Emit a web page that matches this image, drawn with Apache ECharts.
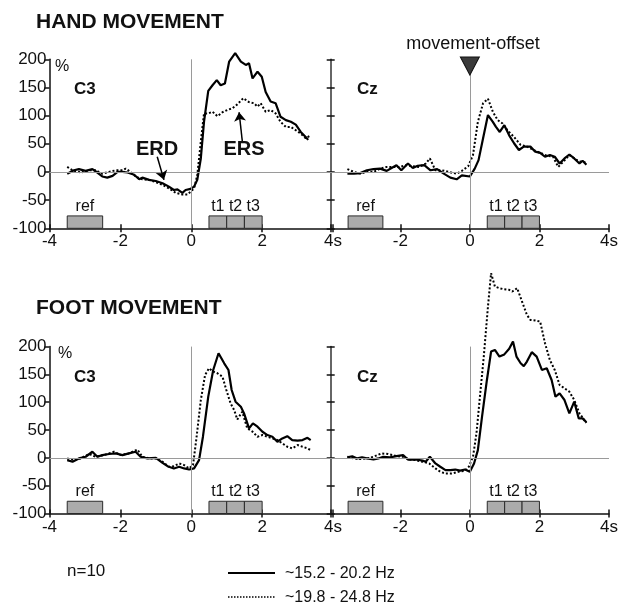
<!DOCTYPE html>
<html><head><meta charset="utf-8">
<script src="https://cdn.jsdelivr.net/npm/echarts@6/dist/echarts.min.js"></script>
<style>html,body{margin:0;padding:0;background:#fff}#c{width:621px;height:615px}</style>
</head><body><div id="c"></div>
<script>
// ---- data (time in s, value in %) ----
const xTickStep = 2;
const yRange = [-100, 200];
const yTickStep = 50;

const handC3Solid = [[-3.50,-3],[-3.31,3],[-3.17,5],[-2.98,2],[-2.79,5],[-2.65,-1],[-2.51,-8],[-2.37,-10],[-2.22,-7],[-2.08,0],[-1.94,0],[-1.80,-1],[-1.61,-5],[-1.47,-13],[-1.38,-10],[-1.19,-14],[-1.00,-16],[-0.81,-20],[-0.63,-26],[-0.49,-32],[-0.39,-31],[-0.25,-37],[-0.16,-32],[-0.02,-30],[0.08,-26],[0.17,-14],[0.27,24],[0.36,89],[0.48,144],[0.60,154],[0.72,163],[0.83,154],[0.95,157],[1.07,196],[1.24,211],[1.40,196],[1.54,190],[1.63,193],[1.73,166],[1.87,178],[1.99,169],[2.10,142],[2.24,125],[2.38,122],[2.52,98],[2.67,92],[2.81,89],[2.95,84],[3.09,71],[3.23,62],[3.30,57]];
const handC3Dotted = [[-3.50,9],[-3.35,3],[-3.12,-1],[-2.88,3],[-2.70,3],[-2.51,-3],[-2.32,0],[-2.13,3],[-1.94,3],[-1.85,6],[-1.71,0],[-1.57,-8],[-1.38,-13],[-1.19,-14],[-1.00,-18],[-0.81,-23],[-0.63,-29],[-0.44,-37],[-0.25,-40],[-0.11,-40],[-0.02,-35],[0.08,-29],[0.17,-6],[0.27,54],[0.36,104],[0.48,104],[0.60,107],[0.74,99],[0.88,106],[1.02,110],[1.16,113],[1.30,120],[1.47,131],[1.63,124],[1.77,122],[1.87,116],[1.96,122],[2.10,107],[2.24,110],[2.38,104],[2.52,89],[2.67,80],[2.81,80],[2.95,74],[3.09,68],[3.23,60],[3.37,65]];
const handCzSolid = [[-3.52,-3],[-3.33,-3],[-3.15,-2],[-2.96,3],[-2.77,5],[-2.58,6],[-2.39,2],[-2.25,7],[-2.11,12],[-1.97,3],[-1.78,15],[-1.64,7],[-1.50,11],[-1.31,12],[-1.13,3],[-0.94,5],[-0.75,-3],[-0.56,-10],[-0.38,-13],[-0.23,-6],[0.00,-8],[0.14,6],[0.25,21],[0.38,60],[0.52,101],[0.66,89],[0.75,80],[0.86,71],[0.99,83],[1.13,65],[1.27,51],[1.41,39],[1.55,45],[1.74,45],[1.88,36],[2.02,34],[2.16,27],[2.30,30],[2.44,27],[2.58,15],[2.72,24],[2.86,31],[3.00,24],[3.15,15],[3.24,20],[3.35,13]];
const handCzDotted = [[-3.52,5],[-3.33,0],[-3.15,-3],[-2.96,0],[-2.77,0],[-2.58,6],[-2.39,9],[-2.21,9],[-2.02,9],[-1.83,12],[-1.64,10],[-1.46,9],[-1.27,15],[-1.15,24],[-0.99,3],[-0.80,3],[-0.61,0],[-0.38,-3],[-0.23,2],[-0.05,10],[0.09,30],[0.23,89],[0.38,122],[0.52,130],[0.66,107],[0.80,92],[0.94,86],[1.08,74],[1.27,62],[1.46,48],[1.64,45],[1.83,39],[2.02,34],[2.21,29],[2.39,27],[2.54,9],[2.68,18],[2.86,30],[3.05,22],[3.19,18],[3.33,17]];
const footC3Solid = [[-3.50,-4],[-3.35,-7],[-3.17,-1],[-2.98,2],[-2.79,11],[-2.65,2],[-2.51,5],[-2.32,7],[-2.13,8],[-1.94,5],[-1.76,8],[-1.57,11],[-1.43,2],[-1.24,-1],[-1.00,0],[-0.81,-9],[-0.67,-15],[-0.49,-19],[-0.34,-16],[-0.20,-19],[-0.06,-21],[0.08,-19],[0.22,-4],[0.33,38],[0.48,110],[0.62,158],[0.77,188],[0.93,170],[1.05,158],[1.14,122],[1.25,101],[1.40,92],[1.49,80],[1.63,53],[1.74,62],[1.87,56],[2.01,47],[2.15,41],[2.29,38],[2.43,29],[2.57,35],[2.71,39],[2.85,32],[3.00,31],[3.14,32],[3.28,36],[3.37,32]];
const footC3Dotted = [[-3.50,-1],[-3.31,-4],[-3.12,-1],[-2.88,7],[-2.70,2],[-2.46,5],[-2.18,11],[-1.99,5],[-1.76,8],[-1.52,15],[-1.38,2],[-1.19,-1],[-1.00,-1],[-0.81,-7],[-0.63,-16],[-0.49,-15],[-0.34,-10],[-0.20,-13],[-0.06,-19],[0.05,-13],[0.14,32],[0.27,104],[0.39,149],[0.50,161],[0.62,155],[0.74,152],[0.88,146],[0.99,122],[1.11,98],[1.21,86],[1.30,69],[1.44,83],[1.58,53],[1.73,47],[1.87,38],[2.01,41],[2.15,38],[2.29,35],[2.43,32],[2.57,26],[2.71,20],[2.85,17],[3.00,23],[3.14,20],[3.28,17],[3.37,14]];
const footCzSolid = [[-3.52,1],[-3.38,3],[-3.24,-1],[-3.10,1],[-2.96,-1],[-2.77,-3],[-2.63,-1],[-2.49,2],[-2.30,1],[-2.11,3],[-1.92,5],[-1.78,-3],[-1.55,-3],[-1.36,-5],[-1.27,-7],[-1.15,2],[-0.99,-10],[-0.85,-16],[-0.70,-22],[-0.56,-22],[-0.42,-21],[-0.28,-23],[-0.14,-21],[0.00,-25],[0.12,-10],[0.23,14],[0.35,74],[0.49,140],[0.61,191],[0.72,194],[0.85,182],[0.99,186],[1.13,196],[1.24,209],[1.34,182],[1.46,170],[1.55,165],[1.64,173],[1.78,190],[1.92,182],[2.07,158],[2.21,161],[2.35,140],[2.46,110],[2.58,116],[2.72,104],[2.86,80],[3.00,101],[3.13,71],[3.24,71],[3.35,64]];
const footCzDotted = [[-3.52,2],[-3.33,-1],[-3.15,-2],[-2.96,-1],[-2.77,2],[-2.54,8],[-2.35,7],[-2.11,3],[-1.92,2],[-1.74,-3],[-1.55,-4],[-1.36,-7],[-1.17,-10],[-0.99,-19],[-0.85,-25],[-0.70,-28],[-0.52,-28],[-0.33,-25],[-0.14,-23],[-0.03,-16],[0.09,2],[0.19,44],[0.28,104],[0.40,182],[0.52,272],[0.61,332],[0.72,308],[0.85,305],[0.99,303],[1.13,302],[1.22,299],[1.36,305],[1.50,281],[1.64,257],[1.74,248],[1.88,247],[2.02,245],[2.16,206],[2.30,176],[2.44,158],[2.58,131],[2.72,125],[2.86,119],[3.00,104],[3.15,80],[3.29,68],[3.35,63]];

const refWindow = [-3.5, -2.5];
const testWindows = [[0.5, 1.0], [1.0, 1.5], [1.5, 2.0]];
const testLabels = ['t1', 't2', 't3'];
const boxValueRange = [-100, -78];
const offsetMarkerAt = [0, 188];
const erdArrow = [[-0.96, 27], [-0.77, -14]];
const ersArrow = [[1.44, 55], [1.35, 106]];
const channelNames = ['C3', 'Cz', 'C3', 'Cz'];
const legendNames = ['~15.2 - 20.2 Hz', '~19.8 - 24.8 Hz'];

// ---- layout ----
const FONT = '"Liberation Sans", Arial, Helvetica, sans-serif';
const INK = '#111';
const grids = [
  {left: 49.5, top: 59.3, width: 283.5, height: 169},
  {left: 330.7, top: 59.3, width: 284.3, height: 169},
  {left: 49.5, top: 346.6, width: 283.5, height: 166.9},
  {left: 330.7, top: 346.6, width: 284.3, height: 166.9}
];
const panelData = [
  [handC3Solid, handC3Dotted],
  [handCzSolid, handCzDotted],
  [footC3Solid, footC3Dotted],
  [footCzSolid, footCzDotted]
];

const xAxes = [], yAxes = [], series = [];
grids.forEach((g, i) => {
  const isLeft = i % 2 === 0;
  const xFmt = v => (v === 4 ? '4s' : (!isLeft && v === -4 ? '' : String(v)));
  xAxes.push({
    gridIndex: i, type: 'value', min: -4, max: 4, interval: xTickStep, position: 'bottom',
    axisLine: {show: true, onZero: false, lineStyle: {color: INK, width: 1.5}},
    axisTick: {show: true, length: 4, lineStyle: {color: INK, width: 1.5}},
    axisLabel: {formatter: xFmt, fontSize: 17, fontFamily: FONT, color: INK, margin: 5},
    splitLine: {show: false}
  });
  xAxes.push({
    gridIndex: i, type: 'value', min: -4, max: 4, interval: xTickStep, position: 'bottom',
    axisLine: {show: false, onZero: false},
    axisTick: {show: true, inside: true, length: 4, lineStyle: {color: INK, width: 1.5}},
    axisLabel: {show: false}, splitLine: {show: false}
  });
  yAxes.push({
    gridIndex: i, type: 'value', min: yRange[0], max: yRange[1], interval: yTickStep, position: 'left',
    axisLine: {show: true, onZero: false, lineStyle: {color: isLeft ? INK : '#333', width: 1.5}},
    axisTick: {show: true, length: isLeft ? 5 : 4, lineStyle: {color: INK, width: 1.5}},
    axisLabel: {show: isLeft, fontSize: 17, fontFamily: FONT, color: INK, margin: 3},
    splitLine: {show: false}
  });
  yAxes.push({
    gridIndex: i, type: 'value', min: yRange[0], max: yRange[1], interval: yTickStep, position: 'left',
    axisLine: {show: false, onZero: false},
    axisTick: {show: !isLeft, inside: true, length: 4, lineStyle: {color: INK, width: 1.5}},
    axisLabel: {show: false}, splitLine: {show: false}
  });

  const [solid, dotted] = panelData[i];
  const boxes = [[{name: 'ref', xAxis: refWindow[0], yAxis: boxValueRange[0]}, {xAxis: refWindow[1], yAxis: boxValueRange[1]}]]
    .concat(testWindows.map((w, k) => [{name: testLabels[k], xAxis: w[0], yAxis: boxValueRange[0]}, {xAxis: w[1], yAxis: boxValueRange[1]}]));

  const solidSeries = {
    type: 'line', name: legendNames[0], xAxisIndex: 2 * i, yAxisIndex: 2 * i, data: solid,
    showSymbol: false, symbol: 'none', clip: false, z: 3,
    lineStyle: {color: '#000', width: 2.2, type: 'solid'},
    markLine: {
      silent: true, symbol: ['none', 'none'], label: {show: false}, animation: false,
      lineStyle: {color: '#9a9a9a', width: 1, type: 'solid'},
      data: [{yAxis: 0}, {xAxis: 0}]
    },
    markArea: {
      silent: true, animation: false,
      itemStyle: {color: '#ababab', borderColor: '#2a2a2a', borderWidth: 1, opacity: 1},
      label: {show: true, position: 'top', distance: 1, color: INK, fontSize: 16, fontFamily: FONT},
      data: boxes
    }
  };
  if (i === 1) {
    solidSeries.markPoint = {
      silent: true, animation: false, label: {show: false},
      data: [{coord: offsetMarkerAt, symbol: 'triangle', symbolSize: [19, 18], symbolRotate: 180,
              itemStyle: {color: '#3a3a3a', borderColor: '#111', borderWidth: 1}}]
    };
  }
  series.push(solidSeries);

  const dottedSeries = {
    type: 'line', name: legendNames[1], xAxisIndex: 2 * i, yAxisIndex: 2 * i, data: dotted,
    showSymbol: false, symbol: 'none', clip: false, z: 3,
    lineStyle: {color: '#000', width: 2, type: [2, 2]}
  };
  if (i === 0) {
    dottedSeries.markLine = {
      silent: true, animation: false, label: {show: false}, symbolSize: 9,
      lineStyle: {color: '#000', width: 1.5, type: 'solid'},
      data: [
        [{coord: erdArrow[0], symbol: 'none'}, {coord: erdArrow[1], symbol: 'arrow'}],
        [{coord: ersArrow[0], symbol: 'none'}, {coord: ersArrow[1], symbol: 'arrow'}]
      ]
    };
  }
  series.push(dottedSeries);
});

const txt = (x, y, text, size, bold, align) => ({
  type: 'text', x, y, silent: true,
  style: {text, fill: INK, font: (bold ? 'bold ' : '') + size + 'px ' + FONT,
          textAlign: align || 'left', textVerticalAlign: 'middle'}
});

const graphic = [
  txt(36, 22, 'HAND MOVEMENT', 21, true),
  txt(36, 308, 'FOOT MOVEMENT', 21, true),
  txt(74, 89, channelNames[0], 17, true),
  txt(357, 89, channelNames[1], 17, true),
  txt(74, 377, channelNames[2], 17, true),
  txt(357, 377, channelNames[3], 17, true),
  txt(55, 67, '%', 16, false),
  txt(58, 354, '%', 16, false),
  txt(473, 44, 'movement-offset', 18, false, 'center'),
  txt(157, 149, 'ERD', 20, true, 'center'),
  txt(244, 149, 'ERS', 20, true, 'center'),
  txt(67, 571, 'n=10', 17, false),
  {type: 'line', silent: true, shape: {x1: 228, y1: 573, x2: 275, y2: 573}, style: {stroke: '#000', lineWidth: 2}},
  {type: 'line', silent: true, shape: {x1: 228, y1: 597, x2: 275, y2: 597}, style: {stroke: '#000', lineWidth: 1.5, lineDash: [1.5, 1.5]}},
  txt(285, 574, legendNames[0], 16, false),
  txt(285, 598, legendNames[1], 16, false)
];

const chart = echarts.init(document.getElementById('c'), null, {renderer: 'canvas'});
chart.setOption({
  animation: false,
  backgroundColor: '#fff',
  grid: grids,
  xAxis: xAxes,
  yAxis: yAxes,
  series,
  graphic
});
</script></body></html>
